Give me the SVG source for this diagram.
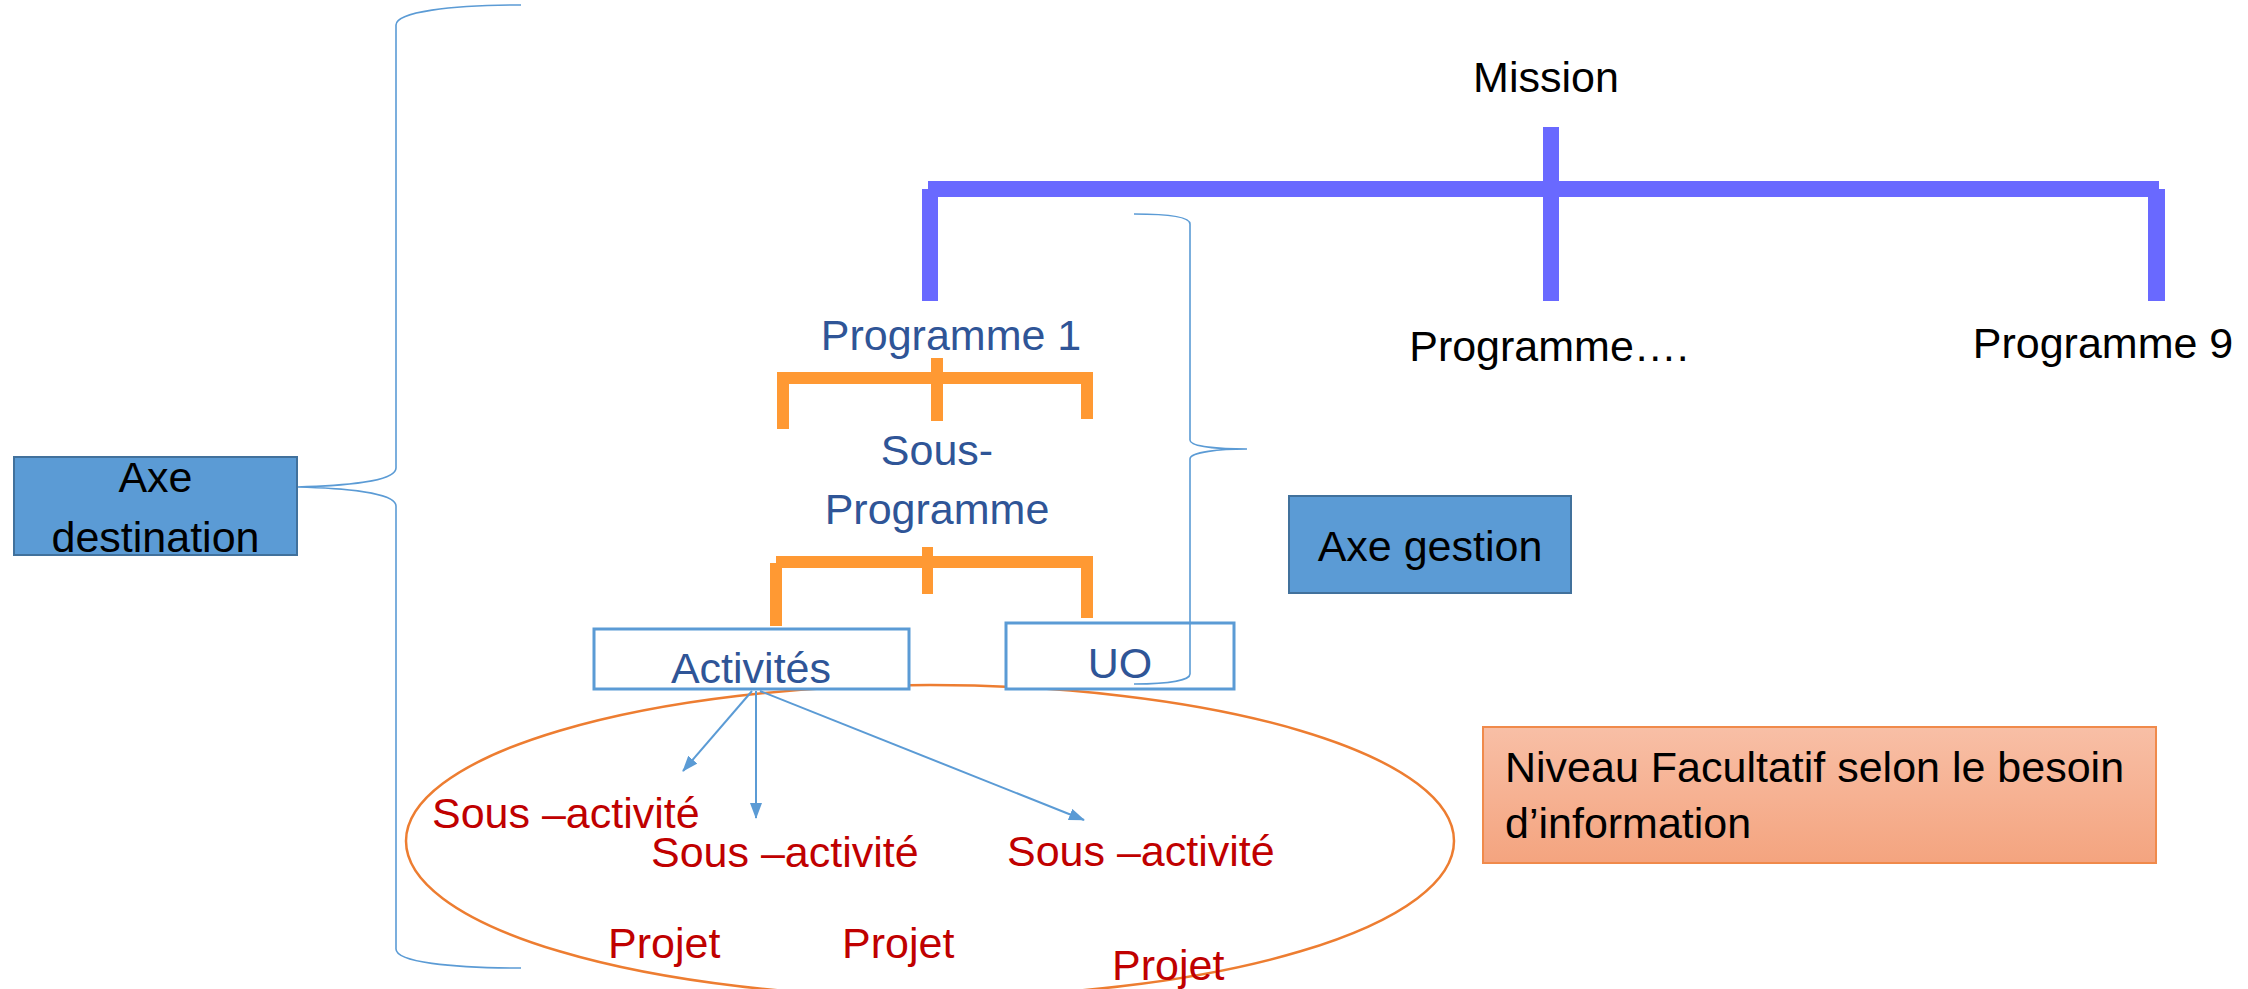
<svg xmlns="http://www.w3.org/2000/svg" width="2248" height="989" viewBox="0 0 2248 989">
<defs>
<marker id="arr" viewBox="0 0 16 12" refX="15" refY="6" markerWidth="16" markerHeight="12" markerUnits="userSpaceOnUse" orient="auto"><path d="M0,0 L16,6 L0,12 z" fill="#5B9BD5"/></marker>
<linearGradient id="peach" x1="0" y1="0" x2="0" y2="1"><stop offset="0" stop-color="#F8BFA6"/><stop offset="1" stop-color="#F4A47F"/></linearGradient>
</defs>
<style>
.t{font-family:"Liberation Sans",Arial,sans-serif;font-size:43px}
.c{text-anchor:middle}
.k{fill:#000}
.b{fill:#2F5597}
.r{fill:#C00000}
.blue{fill:#6969FF}
.or{fill:#FF9933}
.brace{fill:none;stroke:#5B9BD5;stroke-width:1.6}
.box{fill:#fff;stroke:#5B9BD5;stroke-width:3}
.axe{fill:#5B9BD5;stroke:#41719C;stroke-width:2}
.arrow{stroke:#5B9BD5;stroke-width:2;fill:none;marker-end:url(#arr)}
</style>
<rect width="2248" height="989" fill="#fff"/>

<g id="facultatif-ellipse">
<ellipse cx="930" cy="841" rx="524" ry="156" fill="none" stroke="#ED7D31" stroke-width="2.5"/>
</g>

<g id="connectors">
<g id="mission-tree">
<rect class="blue" x="928" y="181" width="1231" height="16"/>
<rect class="blue" x="922" y="189" width="16" height="112"/>
<rect class="blue" x="1543" y="127" width="16" height="174"/>
<rect class="blue" x="2148" y="189" width="17" height="112"/>
</g>
<g id="programme-tree">
<rect class="or" x="777" y="372" width="316" height="12"/>
<rect class="or" x="777" y="372" width="12" height="57"/>
<rect class="or" x="931" y="358" width="12" height="63"/>
<rect class="or" x="1081" y="372" width="12" height="47"/>
</g>
<g id="sous-programme-tree">
<rect class="or" x="776" y="556" width="317" height="12"/>
<rect class="or" x="770" y="563" width="12" height="63"/>
<rect class="or" x="922" y="547" width="11" height="47"/>
<rect class="or" x="1081" y="556" width="12" height="62"/>
</g>
</g>

<g id="activites">
<rect class="box" x="594" y="629" width="315" height="60"/>
<text class="t c b" x="751" y="683">Activités</text>
</g>
<g id="uo">
<rect class="box" x="1006" y="623" width="228" height="66"/>
<text class="t c b" x="1120" y="678">UO</text>
</g>

<g id="connectors-2">
<path class="brace" d="M521,5 C450,5 396,12 396,25 L396,468 C396,482 340,486 297,487 C340,488 396,492 396,506 L396,949 C396,962 450,968 521,968"/>
<path class="brace" d="M1134,214 C1170,214 1190,217 1190,224 L1190,440 C1190,447 1220,449 1247,449 C1220,449 1190,452 1190,459 L1190,674 C1190,680 1170,684 1134,684"/>
<line class="arrow" x1="752" y1="691" x2="683" y2="771"/>
<line class="arrow" x1="756" y1="691" x2="756" y2="818"/>
<line class="arrow" x1="760" y1="691" x2="1084" y2="820"/>
</g>

<g id="mission"><text class="t c k" x="1546" y="92">Mission</text></g>
<g id="programme1"><text class="t c b" x="951" y="350">Programme 1</text></g>
<g id="programme-etc"><text class="t c k" x="1549" y="361">Programme….</text></g>
<g id="programme9"><text class="t c k" x="2103" y="358">Programme 9</text></g>
<g id="sous-programme"><text class="t c b" x="937" y="465">Sous-</text><text class="t c b" x="937" y="524">Programme</text></g>

<g id="axe-destination">
<rect class="axe" x="14" y="457" width="283" height="98"/>
<text class="t c k" x="155.5" y="492">Axe</text>
<text class="t c k" x="155.5" y="552">destination</text>
</g>
<g id="axe-gestion">
<rect class="axe" x="1289" y="496" width="282" height="97"/>
<text class="t c k" x="1430" y="561">Axe gestion</text>
</g>
<g id="niveau-facultatif">
<rect x="1483" y="727" width="673" height="136" fill="url(#peach)" stroke="#F08A4B" stroke-width="2"/>
<text class="t k" x="1505" y="782">Niveau Facultatif selon le besoin</text>
<text class="t k" x="1505" y="838">d’information</text>
</g>

<g id="sous-activite-1"><text class="t r" x="432" y="828">Sous –activité</text></g>
<g id="sous-activite-2"><text class="t r" x="651" y="867">Sous –activité</text></g>
<g id="sous-activite-3"><text class="t r" x="1007" y="866">Sous –activité</text></g>
<g id="projet-1"><text class="t r" x="608" y="958">Projet</text></g>
<g id="projet-2"><text class="t r" x="842" y="958">Projet</text></g>
<g id="projet-3"><text class="t r" x="1112" y="980">Projet</text></g>
</svg>
